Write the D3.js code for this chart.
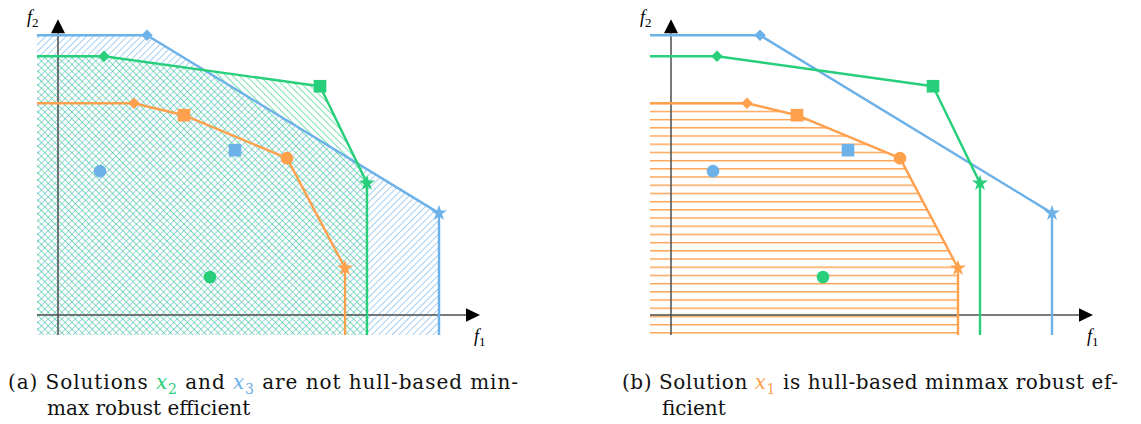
<!DOCTYPE html>
<html>
<head>
<meta charset="utf-8">
<script src="https://cdn.jsdelivr.net/npm/d3@7"></script>
<style>
body{margin:0;background:#fff;}
</style>
</head>
<body>
<div id="chart"></div>
<script>
// images of the three solutions, one point per scenario
var scenarios = ["diamond","square","circle","star"];
var x1Points = [[7.6,21.2],[12.6,20.0],[22.9,15.7],[28.7,4.7]];
var x2Points = [[4.6,25.9],[26.2,22.9],[15.2,3.8],[30.9,13.2]];
var x3Points = [[8.9,28.0],[17.7,16.5],[4.2,14.4],[38.1,10.2]];
// scenarios that lie on the upper hull of each solution
var x1Hull = [0,1,2,3];
var x2Hull = [0,1,3];
var x3Hull = [0,3];
var f1Domain = [-2.1,42.2];
var f2Domain = [-2,29.6];
var captionA = [["(a) "],["Solutions "],["x","2","x2"],[" and "],["x","3","x3"],[" are not hull-based min-"]];
var captionA2 = "max robust efficient";
var captionB = [["(b) "],["Solution "],["x","1","x1"],[" is hull-based minmax robust ef-"]];
var captionB2 = "ficient";

var color = {x1:"#ffa04d",x2:"#27cf7b",x3:"#6cb1e8"};
var axisColor = "#4d4d4d";
var sols = [
    {key:"x3",pts:x3Points,hull:x3Hull},
    {key:"x2",pts:x2Points,hull:x2Hull},
    {key:"x1",pts:x1Points,hull:x1Hull}
];
var symbols = {
    diamond:d3.symbol().type(d3.symbolDiamond2).size(85),
    square:d3.symbol().type(d3.symbolSquare).size(160),
    circle:d3.symbol().type(d3.symbolCircle).size(125),
    star:d3.symbol().type(d3.symbolStar).size(80)
};

var width = 1141, height = 424;
var svg = d3.select("#chart").append("svg")
    .attr("width",width).attr("height",height)
    .style("font-family","'DejaVu Serif',serif");
var defs = svg.append("defs");

var y = d3.scaleLinear().domain(f2Domain).range([335,19.3]);

function diagHatch(id,col,angle,gap){
    var p = defs.append("pattern")
        .attr("id",id)
        .attr("patternUnits","userSpaceOnUse")
        .attr("width",gap).attr("height",gap)
        .attr("patternTransform","rotate("+angle+")");
    p.append("line")
        .attr("x1",0).attr("y1",-1).attr("x2",0).attr("y2",gap+1)
        .attr("stroke",col).attr("stroke-width",1.2);
}
function flatHatch(id,col,gap,y0){
    var p = defs.append("pattern")
        .attr("id",id)
        .attr("patternUnits","userSpaceOnUse")
        .attr("y",y0)
        .attr("width",20).attr("height",gap);
    p.append("line")
        .attr("x1",-1).attr("y1",0.7).attr("x2",21).attr("y2",0.7)
        .attr("stroke",col).attr("stroke-width",1.4);
}
diagHatch("hatch-x3",color.x3,45,4.8);
diagHatch("hatch-x2",color.x2,-45,4.8);
flatHatch("hatch-x1",color.x1,8.2,y(x1Points[x1Hull[0]][1])-0.7);

var drawpanel = function(id,range,filled){
    var x = d3.scaleLinear().domain(f1Domain).range(range);
    var g = svg.append("g");
    var xmin = f1Domain[0], ymin = f2Domain[0];

    defs.append("clipPath").attr("id","clip-"+id)
        .append("rect")
        .attr("x",x(xmin)).attr("y",0)
        .attr("width",x(f1Domain[1])-x(xmin)).attr("height",y(ymin));

    function front(s){
        var h = s.hull.map(function(i){return s.pts[i];});
        return [[xmin,h[0][1]]].concat(h).concat([[h[h.length-1][0],ymin]]);
    }
    var path = d3.line().x(function(d){return x(d[0]);}).y(function(d){return y(d[1]);});

    var area = g.append("g").attr("clip-path","url(#clip-"+id+")");
    sols.forEach(function(s){
        if(filled.indexOf(s.key) == -1) return;
        var pts = front(s).concat([[xmin,ymin]]);
        area.append("path")
            .attr("d",path(pts)+"Z")
            .attr("fill","url(#hatch-"+s.key+")");
    });

    // axes with arrow heads
    var x0 = x(0), y0 = y(0);
    var xEnd = x(f1Domain[1]), yEnd = y(f2Domain[1]);
    g.append("line").attr("x1",x(xmin)).attr("y1",y0).attr("x2",xEnd-14).attr("y2",y0)
        .attr("stroke",axisColor).attr("stroke-width",1.5);
    g.append("line").attr("x1",x0).attr("y1",y(ymin)).attr("x2",x0).attr("y2",yEnd+14)
        .attr("stroke",axisColor).attr("stroke-width",1.5);
    g.append("path").attr("d","M"+xEnd+","+y0+"L"+(xEnd-14)+","+(y0-6.8)+"L"+(xEnd-14)+","+(y0+6.8)+"Z");
    g.append("path").attr("d","M"+x0+","+yEnd+"L"+(x0-7)+","+(yEnd+14)+"L"+(x0+7)+","+(yEnd+14)+"Z");

    var lab = g.append("text").attr("x",x0-31).attr("y",yEnd+4)
        .attr("font-family","'Liberation Serif',serif")
        .attr("font-size",18).attr("font-style","italic");
    lab.append("tspan").text("f");
    lab.append("tspan").attr("dy",4).attr("font-size",13).attr("font-style","normal").text("2");
    var lab1 = g.append("text").attr("x",xEnd-6).attr("y",y0+27)
        .attr("font-family","'Liberation Serif',serif")
        .attr("font-size",18).attr("font-style","italic");
    lab1.append("tspan").text("f");
    lab1.append("tspan").attr("dy",4).attr("font-size",13).attr("font-style","normal").text("1");

    var lines = g.append("g").attr("clip-path","url(#clip-"+id+")");
    sols.forEach(function(s){
        lines.append("path")
            .attr("d",path(front(s)))
            .attr("fill","none")
            .attr("stroke",color[s.key])
            .attr("stroke-width",2.4)
            .attr("stroke-linejoin","round");
    });
    sols.forEach(function(s){
        g.selectAll(null).data(s.pts).enter()
            .append("path")
            .attr("transform",function(d){return "translate("+x(d[0])+","+y(d[1])+")";})
            .attr("d",function(d,i){return symbols[scenarios[i]]();})
            .attr("fill",color[s.key]);
    });
};
drawpanel("a",[37,480],["x3","x2"]);
drawpanel("b",[650,1093],["x1"]);

function caption(parts,line2,xl,xt,yb,len1){
    var t = svg.append("text").attr("x",xl).attr("y",yb).attr("font-size",20).attr("fill","#111")
        .attr("textLength",len1).attr("lengthAdjust","spacing");
    var shift = 0;
    parts.forEach(function(p){
        if(p.length == 3){
            t.append("tspan").attr("dy",shift).attr("font-style","italic").attr("fill",color[p[2]]).text(p[0]);
            t.append("tspan").attr("dy",5).attr("font-size",14).attr("fill",color[p[2]]).text(p[1]);
            shift = -5;
        }else{
            t.append("tspan").attr("dy",shift).text(p[0]);
            shift = 0;
        }
    });
    svg.append("text").attr("x",xt).attr("y",yb+26).attr("font-size",20).attr("fill","#111").text(line2);
}
caption(captionA,captionA2,8,47,389,510);
caption(captionB,captionB2,622,662,389,496);
</script>
</body>
</html>
